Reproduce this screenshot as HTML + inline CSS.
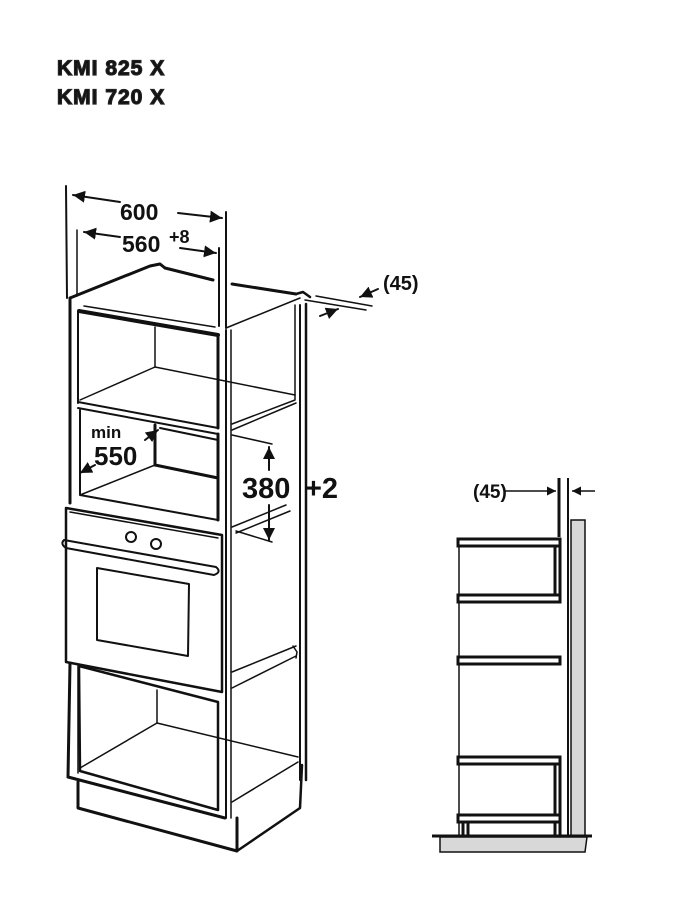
<!DOCTYPE html>
<html><head><meta charset="utf-8"><style>
html,body{margin:0;padding:0;background:#fff;}
svg{display:block;}
text{font-family:"Liberation Sans",Arial,sans-serif;font-weight:bold;fill:#111;}
</style></head><body>
<svg width="675" height="900" viewBox="0 0 675 900" xmlns="http://www.w3.org/2000/svg">
<defs>
<marker id="a" viewBox="0 0 10 10" refX="10" refY="5" markerWidth="6" markerHeight="6" orient="auto-start-reverse"><path d="M0,0L10,5L0,10z" fill="#111"/></marker>
</defs>
<text x="57" y="75" font-size="21" letter-spacing="1" stroke="#222" stroke-width="1.2" fill="#222">KMI 825 X</text>
<text x="57" y="104" font-size="21" letter-spacing="1" stroke="#222" stroke-width="1.2" fill="#222">KMI 720 X</text>

<g stroke="#111" fill="none" stroke-linecap="round" stroke-linejoin="round">
<line x1="66" y1="186" x2="67" y2="298" stroke-width="2"/>
<line x1="77" y1="230" x2="77" y2="296" stroke-width="1.5"/>
<line x1="219" y1="248" x2="219" y2="326" stroke-width="2"/>
<line x1="226" y1="212" x2="226" y2="328" stroke-width="2"/>
<line x1="120" y1="202" x2="73" y2="195" stroke-width="2" marker-end="url(#a)"/>
<line x1="178" y1="213" x2="222" y2="218" stroke-width="2" marker-end="url(#a)"/>
<line x1="120" y1="237" x2="84" y2="232" stroke-width="2" marker-end="url(#a)"/>
<line x1="180" y1="248" x2="216" y2="253" stroke-width="2" marker-end="url(#a)"/>
<path d="M70,298 L150,266 L160,264 L165,268" stroke-width="3"/>
<line x1="165" y1="268" x2="213" y2="280" stroke-width="3"/>
<line x1="232" y1="284" x2="296" y2="294" stroke-width="3"/>
<path d="M296,294 L303,292 L310,297" stroke-width="2.5"/>
<line x1="70" y1="298" x2="70" y2="503" stroke-width="3"/>
<line x1="84" y1="306" x2="215" y2="327" stroke-width="1.5"/>
<line x1="226" y1="328" x2="300" y2="298" stroke-width="1.5"/>
<line x1="316" y1="296" x2="372" y2="306" stroke-width="1.5"/>
<line x1="305" y1="300" x2="366" y2="310" stroke-width="1.5"/>
<line x1="378" y1="289" x2="360" y2="297" stroke-width="2" marker-end="url(#a)"/>
<line x1="320" y1="316" x2="338" y2="309" stroke-width="2" marker-end="url(#a)"/>
<line x1="295" y1="305" x2="295" y2="395" stroke-width="1.5"/>
<line x1="300" y1="305" x2="300" y2="780" stroke-width="2"/>
<line x1="306" y1="304" x2="306" y2="780" stroke-width="2.5"/>
<path d="M79,311 L218,335" stroke-width="4"/>
<line x1="78" y1="311" x2="78" y2="403" stroke-width="2"/>
<line x1="218" y1="335" x2="218" y2="428" stroke-width="3"/>
<line x1="226" y1="330" x2="226" y2="818" stroke-width="2"/>
<line x1="231" y1="330" x2="231" y2="818" stroke-width="1.5"/>
<line x1="155" y1="327" x2="155" y2="367" stroke-width="1.5"/>
<path d="M80,400 L155,367 L295,395" stroke-width="1.5"/>
<path d="M295,395 L295,400 L232,424" stroke-width="1.5"/>
<line x1="232" y1="430" x2="296" y2="403" stroke-width="1.5"/>
<path d="M78,402 L218,428" stroke-width="2"/>
<path d="M78,408 L218,434" stroke-width="2"/>
<path d="M80,410 L80,495 L218,520" stroke-width="2"/>
<line x1="155" y1="425" x2="155" y2="465" stroke-width="3"/>
<path d="M155,465 L218,478" stroke-width="3"/>
<line x1="218" y1="434" x2="218" y2="520" stroke-width="3"/>
<line x1="80" y1="495" x2="155" y2="465" stroke-width="1.5"/>
<line x1="160" y1="428" x2="218" y2="440" stroke-width="2"/>
<line x1="232" y1="435" x2="272" y2="444" stroke-width="1.5"/>
<line x1="232" y1="527" x2="286" y2="505" stroke-width="1.5"/>
<line x1="236" y1="533" x2="290" y2="511" stroke-width="1.5"/>
<line x1="236" y1="531" x2="272" y2="542" stroke-width="1.5"/>
<line x1="145" y1="440" x2="158" y2="430" stroke-width="2" marker-end="url(#a)"/>
<line x1="95" y1="465" x2="80" y2="473" stroke-width="2" marker-end="url(#a)"/>
<line x1="269" y1="470" x2="269" y2="447" stroke-width="2" marker-end="url(#a)"/>
<line x1="269" y1="505" x2="269" y2="540" stroke-width="2" marker-end="url(#a)"/>
<path d="M66,508 L222,535 L222,692 L66,662 Z" stroke-width="2.5"/>
<line x1="70" y1="512" x2="218" y2="538" stroke-width="1.5"/>
<circle cx="131" cy="537" r="5" stroke-width="2"/>
<circle cx="156" cy="544" r="5" stroke-width="2"/>
<path d="M64,540 L216,567 Q222,572 214,575 L66,548 Q60,544 64,540Z" stroke-width="2"/>
<path d="M97,568 L189,584 L188,656 L97,640 Z" stroke-width="2"/>
<line x1="70" y1="663" x2="68" y2="777" stroke-width="3"/>
<path d="M79,666 L218,702 L218,810 L80,771 Z" stroke-width="2.5"/>
<line x1="78" y1="666" x2="78" y2="773" stroke-width="1.5"/>
<line x1="157" y1="690" x2="157" y2="723" stroke-width="1.5"/>
<line x1="80" y1="768" x2="157" y2="723" stroke-width="1.5"/>
<line x1="157" y1="723" x2="298" y2="757" stroke-width="1.5"/>
<line x1="232" y1="802" x2="298" y2="762" stroke-width="1.5"/>
<line x1="232" y1="672" x2="296" y2="646" stroke-width="1.5"/>
<line x1="232" y1="688" x2="296" y2="656" stroke-width="1.5"/>
<path d="M293,646 L297,652 L296,658" stroke-width="1.5"/>
<line x1="68" y1="777" x2="225" y2="818" stroke-width="3"/>
<path d="M78,782 L78,808 L237,851 L237,818" stroke-width="3"/>
<path d="M237,851 L300,808 L302,765" stroke-width="2.5"/>
</g>
<text x="120" y="220" font-size="23">600</text>
<text x="122" y="252" font-size="23">560</text>
<text x="169" y="243" font-size="18">+8</text>
<text x="383" y="290" font-size="20">(45)</text>
<text x="91" y="438" font-size="17">min</text>
<text x="94" y="465" font-size="26">550</text>
<text x="242" y="498" font-size="29">380</text>
<text x="305" y="498" font-size="29">+2</text>

<rect x="571" y="520" width="14" height="317" fill="#d8d8d8" stroke="#111" stroke-width="1.5"/>
<path d="M440,837 L587,837 L585,852 L440,852 Z" fill="#d8d8d8" stroke="#111" stroke-width="1.5"/>
<line x1="432" y1="836" x2="592" y2="836" stroke="#111" stroke-width="3"/>
<g stroke="#111" fill="none">
<line x1="559" y1="478" x2="559" y2="537" stroke-width="3"/>
<line x1="568" y1="478" x2="568" y2="836" stroke-width="2"/>
<line x1="504" y1="491" x2="556" y2="491" stroke-width="1.5" marker-end="url(#a)"/>
<line x1="595" y1="491" x2="572" y2="491" stroke-width="1.5" marker-end="url(#a)"/>
<line x1="459" y1="540" x2="459" y2="836" stroke-width="1.5"/>
</g>
<g fill="#fff" stroke="#111" stroke-width="3">
<rect x="458" y="539" width="102" height="7"/>
<rect x="458" y="595" width="102" height="7"/>
<rect x="458" y="657" width="102" height="7"/>
<rect x="458" y="757" width="102" height="7"/>
<rect x="458" y="815" width="102" height="7"/>
<rect x="555" y="546" width="5" height="49"/>
<rect x="555" y="764" width="5" height="51"/>
<rect x="463" y="822" width="5" height="14"/>
<rect x="555" y="822" width="5" height="14"/>
</g>
<text x="473" y="498" font-size="19">(45)</text>
</svg>
</body></html>
